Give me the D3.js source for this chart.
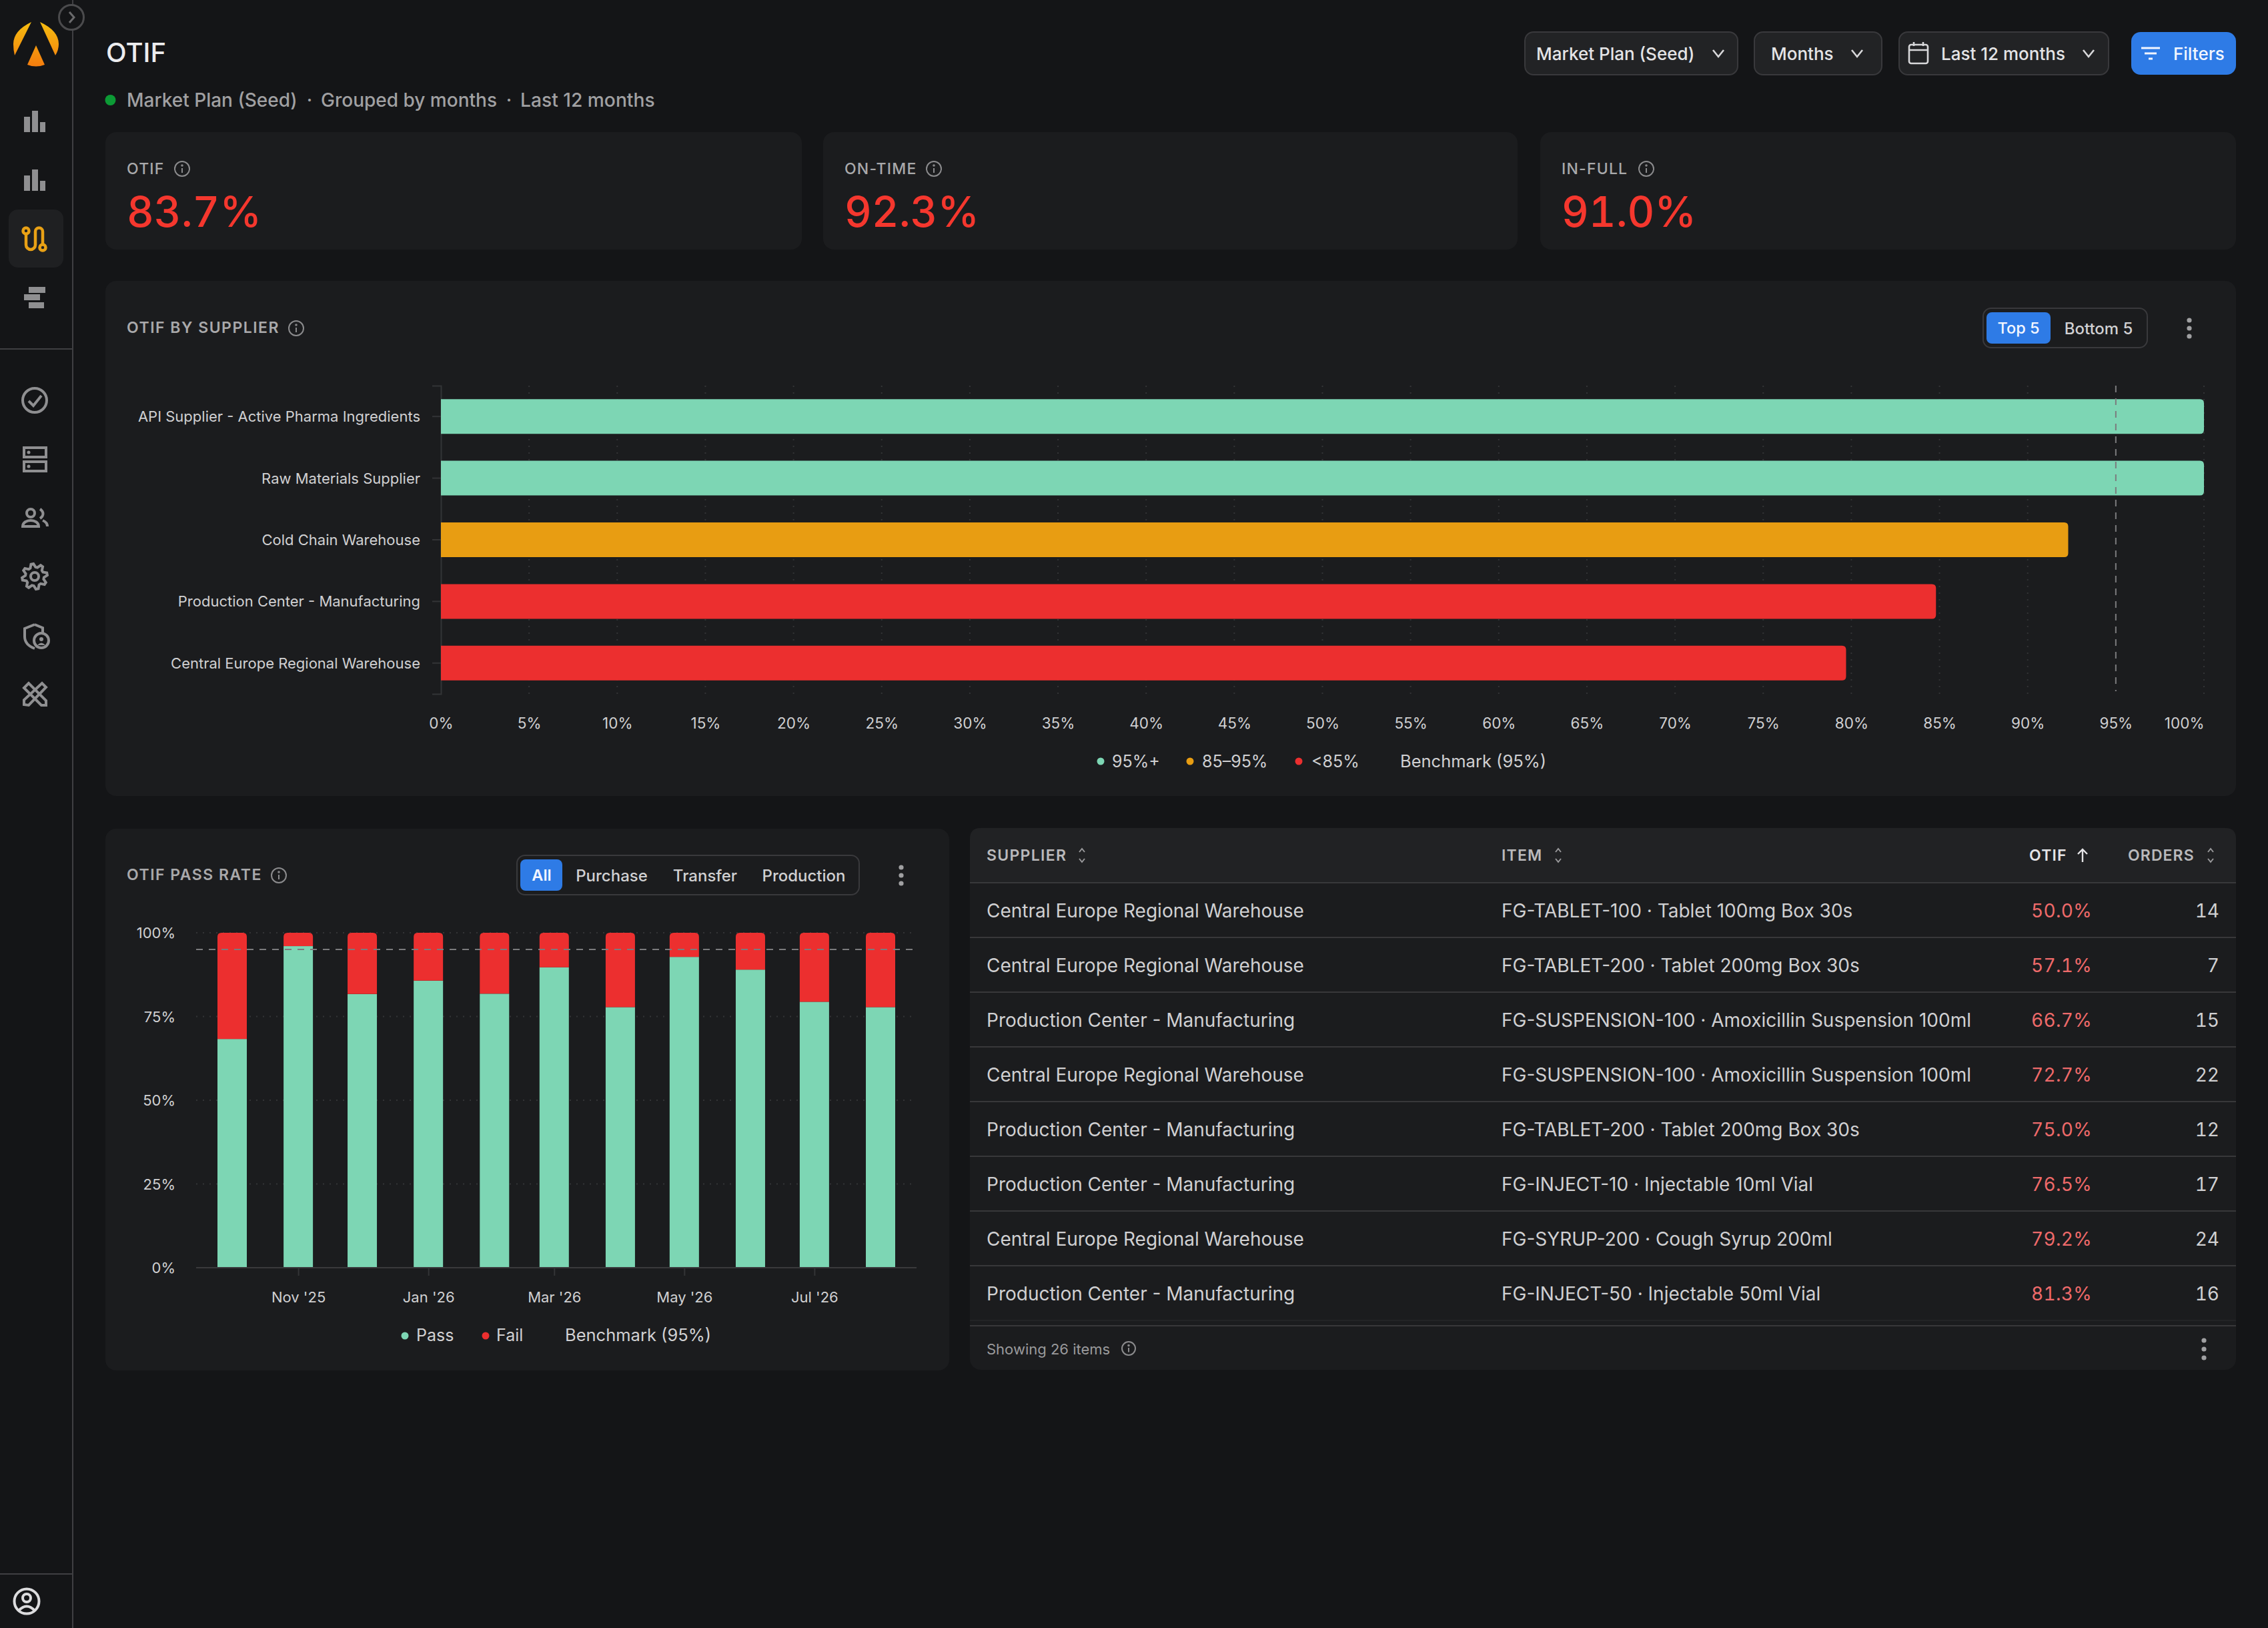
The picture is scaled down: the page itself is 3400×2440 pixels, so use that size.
<!DOCTYPE html>
<html>
<head>
<meta charset="utf-8">
<title>OTIF</title>
<script src="https://cdn.jsdelivr.net/npm/d3@7"></script>
<style>
    html, body { margin: 0; padding: 0; background: #141517; }
    svg { display: block; }
    text { font-family: Inter, "Noto Sans", sans-serif; }
    .tabular { font-variant-numeric: tabular-nums; }
</style>
</head>
<body>
<div id="chart"></div>
<script>
// Supplier bars
const suppliers = [
    'API Supplier - Active Pharma Ingredients',
    'Raw Materials Supplier',
    'Cold Chain Warehouse',
    'Production Center - Manufacturing',
    'Central Europe Regional Warehouse'
];
const supplierOtif = [100, 100, 92.3, 84.8, 79.7];
const supplierTicks = [0, 5, 10, 15, 20, 25, 30, 35, 40, 45, 50, 55, 60, 65, 70, 75, 80, 85, 90, 95, 100];
const benchmark = 95;

// Pass rate by month
const months = ['2025-10-01', '2025-11-01', '2025-12-01', '2026-01-01', '2026-02-01', '2026-03-01',
    '2026-04-01', '2026-05-01', '2026-06-01', '2026-07-01', '2026-08-01'];
const passRate = [68.3, 96.0, 81.7, 85.7, 81.8, 89.7, 77.8, 92.8, 89.0, 79.4, 77.8];
const failRate = [31.7, 4.0, 18.3, 14.3, 18.2, 10.3, 22.2, 7.2, 11.0, 20.6, 22.2];
const monthTicks = ['2025-11-01', '2026-01-01', '2026-03-01', '2026-05-01', '2026-07-01'];
const rateTicks = [0, 25, 50, 75, 100];

// Table rows
const tableSupplier = [
    'Central Europe Regional Warehouse',
    'Central Europe Regional Warehouse',
    'Production Center - Manufacturing',
    'Central Europe Regional Warehouse',
    'Production Center - Manufacturing',
    'Production Center - Manufacturing',
    'Central Europe Regional Warehouse',
    'Production Center - Manufacturing'
];
const tableItem = [
    'FG-TABLET-100 · Tablet 100mg Box 30s',
    'FG-TABLET-200 · Tablet 200mg Box 30s',
    'FG-SUSPENSION-100 · Amoxicillin Suspension 100ml',
    'FG-SUSPENSION-100 · Amoxicillin Suspension 100ml',
    'FG-TABLET-200 · Tablet 200mg Box 30s',
    'FG-INJECT-10 · Injectable 10ml Vial',
    'FG-SYRUP-200 · Cough Syrup 200ml',
    'FG-INJECT-50 · Injectable 50ml Vial'
];
const tableOtif = [50.0, 57.1, 66.7, 72.7, 75.0, 76.5, 79.2, 81.3];
const tableOrders = [14, 7, 15, 22, 12, 17, 24, 16];

// KPI cards
const kpiLabels = ['OTIF', 'ON-TIME', 'IN-FULL'];
const kpiValues = [83.7, 92.3, 91.0];

// Colors
const GREEN = '#7dd6b4';
const AMBER = '#e89d12';
const RED = '#ec2f2f';
const BLUE = '#2e7be6';
const PAGE = '#141517';
const CARD = '#1b1c1e';
const BORDER = '#39393c';
const MUTED = '#a9a9ab';
const TEXT = '#d0d0d2';
const ICON = '#8f8f91';

const svg = d3.select('#chart')
    .append('svg')
    .attr('width', 3400)
    .attr('height', 2440);

svg.append('rect').attr('width', 3400).attr('height', 2440).attr('fill', PAGE);

function label(parent, x, y, str, size, fill, weight, anchor, spacing) {
    return parent.append('text')
        .attr('x', x)
        .attr('y', y)
        .attr('dy', '0.36em')
        .attr('font-size', size)
        .attr('font-weight', weight || 400)
        .attr('fill', fill)
        .attr('text-anchor', anchor || 'start')
        .attr('letter-spacing', spacing || 0)
        .text(str);
}

function card(x0, y0, x1, y1, fill) {
    svg.append('rect')
        .attr('x', x0).attr('y', y0)
        .attr('width', x1 - x0).attr('height', y1 - y0)
        .attr('rx', 16)
        .attr('fill', fill || CARD);
}

function infoIcon(cx, cy, r) {
    const g = svg.append('g').attr('fill', 'none').attr('stroke', '#8b8b8d').attr('stroke-width', 2);
    g.append('circle').attr('cx', cx).attr('cy', cy).attr('r', r);
    g.append('line').attr('x1', cx).attr('x2', cx).attr('y1', cy - 1).attr('y2', cy + r * 0.55);
    g.append('circle').attr('cx', cx).attr('cy', cy - r * 0.45).attr('r', 0.8);
}

function chevron(cx, cy) {
    svg.append('path')
        .attr('d', `M${cx - 8},${cy - 5} L${cx},${cy + 5} L${cx + 8},${cy - 5}`)
        .attr('fill', 'none')
        .attr('stroke', '#d8d8da')
        .attr('stroke-width', 2.6);
}

function kebab(cx, cy, gap) {
    svg.append('g').selectAll('circle')
        .data([-gap, 0, gap])
        .enter()
        .append('circle')
        .attr('cx', cx)
        .attr('cy', d => cy + d)
        .attr('r', 3.6)
        .attr('fill', '#a0a0a2');
}

function sortIcon(cx, cy) {
    svg.append('path')
        .attr('d', `M${cx - 4},${cy - 5} L${cx},${cy - 10} L${cx + 4},${cy - 5} M${cx - 4},${cy + 5} L${cx},${cy + 10} L${cx + 4},${cy + 5}`)
        .attr('fill', 'none')
        .attr('stroke', '#9a9a9c')
        .attr('stroke-width', 2);
}

function toggleBox(x0, x1, y0, y1, ax0, ax1) {
    svg.append('rect')
        .attr('x', x0).attr('y', y0)
        .attr('width', x1 - x0).attr('height', y1 - y0)
        .attr('rx', 12)
        .attr('fill', 'none')
        .attr('stroke', BORDER)
        .attr('stroke-width', 2);
    svg.append('rect')
        .attr('x', ax0).attr('y', y0 + 6)
        .attr('width', ax1 - ax0).attr('height', y1 - y0 - 12)
        .attr('rx', 8)
        .attr('fill', BLUE);
}

// Rounded on the right side only, for horizontal bars
function barRight(x0, x1, y0, y1, r) {
    return `M${x0},${y0} H${x1 - r} Q${x1},${y0} ${x1},${y0 + r} V${y1 - r} Q${x1},${y1} ${x1 - r},${y1} H${x0} Z`;
}

// Rounded on top only, for the fail segments
function barTop(x0, x1, y0, y1, r) {
    return `M${x0},${y1} V${y0 + r} Q${x0},${y0} ${x0 + r},${y0} H${x1 - r} Q${x1},${y0} ${x1},${y0 + r} V${y1} Z`;
}

drawSidebar();
drawHeader();
drawKpis();
drawSupplierChart();
drawPassChart();
drawTable();

function drawSidebar() {
    svg.append('line').attr('x1', 109).attr('x2', 109).attr('y1', 0).attr('y2', 2440)
        .attr('stroke', '#3f3f42').attr('stroke-width', 2);
    svg.append('line').attr('x1', 0).attr('x2', 109).attr('y1', 523).attr('y2', 523)
        .attr('stroke', '#3f3f42').attr('stroke-width', 2);
    svg.append('line').attr('x1', 0).attr('x2', 109).attr('y1', 2359).attr('y2', 2359)
        .attr('stroke', '#3f3f42').attr('stroke-width', 2);

    // Expand button
    svg.append('circle').attr('cx', 107).attr('cy', 26).attr('r', 18.5)
        .attr('fill', PAGE).attr('stroke', '#4b4b4d').attr('stroke-width', 3);
    svg.append('path').attr('d', 'M104,18 L111,26 L104,34')
        .attr('fill', 'none').attr('stroke', '#6a6a6c').attr('stroke-width', 3);

    // Logo
    const grad = svg.append('defs').append('linearGradient')
        .attr('id', 'logoGrad').attr('x1', 0).attr('x2', 0).attr('y1', 0).attr('y2', 1);
    grad.append('stop').attr('offset', '0%').attr('stop-color', '#f5bd10');
    grad.append('stop').attr('offset', '100%').attr('stop-color', '#f57d0e');
    svg.append('path')
        .attr('d', 'M47,33 Q20,46 20,66 Q20,75 22,83 Z M60,33 Q88,46 88,66 Q88,75 83,83 Z M54,68 L41,97 Q54,102 67,97 Z')
        .attr('fill', 'url(#logoGrad)');

    // Bar chart icons
    [166, 254].forEach(top => {
        const g = svg.append('g').attr('fill', ICON);
        g.append('rect').attr('x', 36).attr('y', top + 9).attr('width', 9).attr('height', 23);
        g.append('rect').attr('x', 48).attr('y', top).attr('width', 9).attr('height', 32);
        g.append('rect').attr('x', 60).attr('y', top + 17).attr('width', 8).attr('height', 15);
    });

    // Active item
    svg.append('rect').attr('x', 13).attr('y', 314).attr('width', 82).attr('height', 87)
        .attr('rx', 14).attr('fill', '#1f2022');
    const route = svg.append('g').attr('fill', 'none').attr('stroke', '#e9a115').attr('stroke-width', 4.5);
    route.append('path').attr('d', 'M39,351 V367 A7,7 0 0 0 53,367 V347 A5.5,5.5 0 0 1 64,347 V366');
    route.append('circle').attr('cx', 39).attr('cy', 346).attr('r', 4.5);
    route.append('circle').attr('cx', 64).attr('cy', 371).attr('r', 4.5);

    // Stacked rows icon
    const stack = svg.append('g').attr('fill', ICON);
    stack.append('rect').attr('x', 43).attr('y', 430).attr('width', 25).attr('height', 9);
    stack.append('rect').attr('x', 36).attr('y', 441).attr('width', 24).attr('height', 9);
    stack.append('rect').attr('x', 43).attr('y', 453).attr('width', 23).attr('height', 9);

    const line = svg.append('g').attr('fill', 'none').attr('stroke', ICON).attr('stroke-width', 4);

    // Check circle
    line.append('circle').attr('cx', 52).attr('cy', 600).attr('r', 18);
    line.append('path').attr('d', 'M43,601 L50,608 L62,593');

    // Server
    line.append('rect').attr('x', 36).attr('y', 671).attr('width', 33).attr('height', 14);
    line.append('rect').attr('x', 36).attr('y', 692).attr('width', 33).attr('height', 14);
    svg.append('circle').attr('cx', 43).attr('cy', 678).attr('r', 2.5).attr('fill', ICON);
    svg.append('circle').attr('cx', 43).attr('cy', 699).attr('r', 2.5).attr('fill', ICON);

    // Users
    line.append('circle').attr('cx', 46).attr('cy', 769).attr('r', 6);
    line.append('path').attr('d', 'M34,789 C34,777 58,777 58,789 Z');
    line.append('path').attr('d', 'M60,763 C66,767 66,773 60,777 M64,780 C69,782 71,785 71,789');

    // Gear
    let gear = '';
    d3.range(16).forEach(i => {
        const a = (i / 16) * 2 * Math.PI - Math.PI / 16;
        const r = i % 2 === 0 ? 19 : 14;
        const step = 2 * Math.PI / 32;
        gear += (i === 0 ? 'M' : 'L') + (52 + r * Math.cos(a - step / 2)) + ',' + (864 + r * Math.sin(a - step / 2));
        gear += 'L' + (52 + r * Math.cos(a + step / 2)) + ',' + (864 + r * Math.sin(a + step / 2));
    });
    line.append('path').attr('d', gear + 'Z');
    line.append('circle').attr('cx', 52).attr('cy', 864).attr('r', 6);

    // Shield with badge
    line.append('path').attr('d', 'M52,936 L37,942 V954 C37,964 44,969 52,972');
    line.append('path').attr('d', 'M52,936 L64,941 V948');
    line.append('circle').attr('cx', 62).attr('cy', 960).attr('r', 11);
    svg.append('circle').attr('cx', 62).attr('cy', 958).attr('r', 3).attr('fill', ICON);
    svg.append('path').attr('d', 'M56,967 Q62,960 68,967 Z').attr('fill', ICON);

    // Crossed tools
    line.append('path').attr('d', 'M36,1056 V1049 L63,1024 L69,1030 L43,1057 Z');
    line.append('path').attr('d', 'M43,1024 L36,1031 L62,1057 L69,1057 V1050 Z');

    // Account
    const account = svg.append('g').attr('fill', 'none').attr('stroke', '#dcdcde').attr('stroke-width', 4);
    account.append('circle').attr('cx', 40).attr('cy', 2400).attr('r', 18.5);
    account.append('circle').attr('cx', 40).attr('cy', 2395).attr('r', 6);
    account.append('path').attr('d', 'M28,2414 Q40,2401 52,2414');
}

function drawHeader() {
    label(svg, 159, 79, 'OTIF', 40, '#ececee', 500);

    svg.append('circle').attr('cx', 165.5).attr('cy', 150).attr('r', 8).attr('fill', '#0c9a35');
    label(svg, 190, 150, 'Market Plan (Seed)', 28, '#a0a0a2', 500);
    label(svg, 464, 150, '·', 28, '#a0a0a2', 500, 'middle');
    label(svg, 481, 150, 'Grouped by months', 28, '#a0a0a2', 500);
    label(svg, 763, 150, '·', 28, '#a0a0a2', 500, 'middle');
    label(svg, 780, 150, 'Last 12 months', 28.2, '#a0a0a2', 500);

    // Selector chips
    const chips = [[2286, 2605], [2630, 2821], [2847, 3161]];
    chips.forEach(c => {
        svg.append('rect')
            .attr('x', c[0]).attr('y', 48)
            .attr('width', c[1] - c[0]).attr('height', 64)
            .attr('rx', 13)
            .attr('fill', '#222325')
            .attr('stroke', BORDER)
            .attr('stroke-width', 2);
    });
    label(svg, 2303, 81, 'Market Plan (Seed)', 26, '#e4e4e6', 500);
    chevron(2576, 80);
    label(svg, 2655, 81, 'Months', 26, '#e4e4e6', 500);
    chevron(2784, 80);
    label(svg, 2910, 81, 'Last 12 months', 26, '#e4e4e6', 500);
    chevron(3131, 80);

    // Calendar
    const cal = svg.append('g').attr('fill', 'none').attr('stroke', '#d8d8da').attr('stroke-width', 2.6);
    cal.append('rect').attr('x', 2862).attr('y', 67).attr('width', 28).attr('height', 28).attr('rx', 3);
    cal.append('path').attr('d', 'M2862,75 H2890 M2869,63 V69 M2883,63 V69');

    // Filters button
    svg.append('rect').attr('x', 3195).attr('y', 48).attr('width', 157).attr('height', 64)
        .attr('rx', 14).attr('fill', BLUE);
    svg.append('path').attr('d', 'M3210,72 H3238 M3215,80 H3233 M3221,88 H3227')
        .attr('fill', 'none').attr('stroke', '#f2f6ff').attr('stroke-width', 3);
    label(svg, 3258, 81, 'Filters', 26, '#f2f6ff', 500);
}

function drawKpis() {
    const kpiX = [[158, 1202], [1234, 2275], [2309, 3352]];
    const infoX = [273, 1400, 2468];
    kpiLabels.forEach((name, i) => {
        card(kpiX[i][0], 198, kpiX[i][1], 374);
        label(svg, kpiX[i][0] + 32, 253, name, 23, MUTED, 500, 'start', 1.2);
        infoIcon(infoX[i], 253, 11);
        label(svg, kpiX[i][0] + 32, 317, kpiValues[i].toFixed(1) + '%', 63, '#f5372e', 500)
            .attr('class', 'tabular');
    });
}

function drawSupplierChart() {
    card(158, 421, 3352, 1193);
    label(svg, 190, 491, 'OTIF BY SUPPLIER', 23, MUTED, 600, 'start', 1.5);
    infoIcon(444, 492, 11);

    toggleBox(2973, 3219, 462, 521, 2978, 3074);
    label(svg, 3026, 492, 'Top 5', 23.5, '#f2f6ff', 500, 'middle');
    label(svg, 3146, 492, 'Bottom 5', 24, TEXT, 500, 'middle');
    kebab(3282, 492, 12);

    const x = d3.scaleLinear().domain([0, 100]).range([661, 3304]);
    const y = d3.scaleBand().domain(suppliers).range([578, 1040]).paddingInner(0.437).paddingOuter(0.2185);

    // Dotted grid
    svg.append('g').selectAll('line')
        .data(supplierTicks.filter(d => d !== 0 && d !== benchmark))
        .enter()
        .append('line')
        .attr('x1', d => x(d)).attr('x2', d => x(d))
        .attr('y1', 578).attr('y2', 1040)
        .attr('stroke', '#333436')
        .attr('stroke-width', 2)
        .attr('stroke-dasharray', '2 8');

    // Category axis
    const yAxis = svg.append('g')
        .attr('transform', 'translate(661,0)')
        .call(d3.axisLeft(y).tickSize(13).tickPadding(18));
    yAxis.select('.domain').attr('stroke', '#333436').attr('stroke-width', 2);
    yAxis.selectAll('.tick line').attr('stroke', '#333436').attr('stroke-width', 2);
    yAxis.selectAll('text').attr('font-size', 22).attr('fill', TEXT).attr('font-family', 'Inter').attr('dy', '0.36em');

    // Bars
    svg.append('g').selectAll('path')
        .data(suppliers)
        .enter()
        .append('path')
        .attr('d', (d, i) => barRight(x(0), x(supplierOtif[i]), y(d), y(d) + y.bandwidth(), 6))
        .attr('fill', (d, i) => supplierOtif[i] >= benchmark ? GREEN : supplierOtif[i] >= 85 ? AMBER : RED);

    // Benchmark
    svg.append('line')
        .attr('x1', x(benchmark)).attr('x2', x(benchmark))
        .attr('y1', 578).attr('y2', 1036)
        .attr('stroke', '#7b7b7d')
        .attr('stroke-width', 2)
        .attr('stroke-dasharray', '10 9');

    // Value axis
    const xAxis = svg.append('g')
        .attr('transform', 'translate(0,1040)')
        .call(d3.axisBottom(x).tickValues(supplierTicks).tickSize(0).tickPadding(36).tickFormat(d => d + '%'));
    xAxis.select('.domain').remove();
    xAxis.selectAll('text').attr('font-size', 22.5).attr('fill', TEXT).attr('font-family', 'Inter')
        .attr('text-anchor', d => d === 100 ? 'end' : 'middle');

    // Legend
    const legendDots = [[1650, GREEN], [1784, AMBER], [1947, RED]];
    legendDots.forEach(d => {
        svg.append('circle').attr('cx', d[0]).attr('cy', 1141).attr('r', 5.5).attr('fill', d[1]);
    });
    label(svg, 1667, 1141, '95%+', 25, TEXT);
    label(svg, 1802, 1141, '85–95%', 25, TEXT);
    label(svg, 1966, 1141, '<85%', 25, TEXT);
    label(svg, 2099, 1141, 'Benchmark (95%)', 25.5, TEXT);
}

function drawPassChart() {
    card(158, 1242, 1423, 2054);
    label(svg, 190, 1311, 'OTIF PASS RATE', 23, MUTED, 600, 'start', 1.5);
    infoIcon(418, 1312, 11);

    toggleBox(775, 1288, 1282, 1341, 780, 843);
    label(svg, 812, 1312, 'All', 23.5, '#f2f6ff', 600, 'middle');
    label(svg, 917, 1312, 'Purchase', 24, TEXT, 500, 'middle');
    label(svg, 1057, 1312, 'Transfer', 24, TEXT, 500, 'middle');
    label(svg, 1205, 1312, 'Production', 24, TEXT, 500, 'middle');
    kebab(1351, 1312, 12);

    const dates = months.map(d => new Date(d));
    const x = d3.scaleUtc().domain([dates[0], dates[dates.length - 1]]).range([348, 1320]);
    const y = d3.scaleLinear().domain([0, 100]).range([1900, 1398]);
    const barW = 44;

    // Dotted grid
    svg.append('g').selectAll('line')
        .data(rateTicks.filter(d => d !== 0))
        .enter()
        .append('line')
        .attr('x1', 294).attr('x2', 1374)
        .attr('y1', d => y(d)).attr('y2', d => y(d))
        .attr('stroke', '#333436')
        .attr('stroke-width', 2)
        .attr('stroke-dasharray', '2 8');

    // Pass segment
    svg.append('g').selectAll('rect')
        .data(dates)
        .enter()
        .append('rect')
        .attr('x', d => x(d) - barW / 2)
        .attr('y', (d, i) => y(passRate[i]))
        .attr('width', barW)
        .attr('height', (d, i) => y(0) - y(passRate[i]))
        .attr('fill', GREEN);

    // Fail segment stacked on top
    svg.append('g').selectAll('path')
        .data(dates)
        .enter()
        .append('path')
        .attr('d', (d, i) => barTop(x(d) - barW / 2, x(d) + barW / 2,
            y(passRate[i] + failRate[i]), y(passRate[i]), 6))
        .attr('fill', RED);

    // Benchmark
    svg.append('line')
        .attr('x1', 294).attr('x2', 1374)
        .attr('y1', y(benchmark)).attr('y2', y(benchmark))
        .attr('stroke', '#7b7b7d')
        .attr('stroke-width', 2)
        .attr('stroke-dasharray', '10 9');

    // Axes
    const xAxis = svg.append('g')
        .attr('transform', 'translate(0,1900)')
        .call(d3.axisBottom(x)
            .tickValues(monthTicks.map(d => new Date(d)))
            .tickSize(12)
            .tickPadding(24)
            .tickFormat(d3.utcFormat("%b '%y")));
    xAxis.select('.domain').attr('d', 'M294,0 H1374').attr('stroke', '#3a3a3c').attr('stroke-width', 2);
    xAxis.selectAll('.tick line').attr('stroke', '#333436').attr('stroke-width', 2);
    xAxis.selectAll('text').attr('font-size', 22).attr('fill', TEXT).attr('font-family', 'Inter');

    const yAxis = svg.append('g')
        .attr('transform', 'translate(263,0)')
        .call(d3.axisLeft(y).tickValues(rateTicks).tickSize(0).tickPadding(0).tickFormat(d => d + '%'));
    yAxis.select('.domain').remove();
    yAxis.selectAll('text').attr('font-size', 22).attr('fill', TEXT).attr('font-family', 'Inter').attr('dy', '0.36em');

    // Legend
    svg.append('circle').attr('cx', 607).attr('cy', 2002).attr('r', 5.5).attr('fill', GREEN);
    svg.append('circle').attr('cx', 728).attr('cy', 2002).attr('r', 5.5).attr('fill', RED);
    label(svg, 624, 2001, 'Pass', 25, TEXT);
    label(svg, 744, 2001, 'Fail', 25, TEXT);
    label(svg, 847, 2001, 'Benchmark (95%)', 25.5, TEXT);
}

function drawTable() {
    card(1454, 1241, 3352, 2053);

    // Header band
    svg.append('path')
        .attr('d', 'M1454,1323 V1257 Q1454,1241 1470,1241 H3336 Q3352,1241 3352,1257 V1323 Z')
        .attr('fill', '#212224');
    label(svg, 1479, 1282, 'SUPPLIER', 23, '#b9b9bb', 600, 'start', 1.3);
    sortIcon(1622, 1282);
    label(svg, 2251, 1282, 'ITEM', 23, '#b9b9bb', 600, 'start', 1.2);
    sortIcon(2336, 1282);
    label(svg, 3042, 1282, 'OTIF', 23, '#e4e4e6', 600, 'start', 1.2);
    svg.append('path')
        .attr('d', 'M3122,1292 V1273 M3115,1280 L3122,1273 L3129,1280')
        .attr('fill', 'none').attr('stroke', '#e4e4e6').attr('stroke-width', 2.4);
    label(svg, 3190, 1282, 'ORDERS', 23, '#b9b9bb', 600, 'start', 1.1);
    sortIcon(3314, 1282);

    const rows = d3.scaleBand().domain(d3.range(tableSupplier.length)).range([1323, 1979]);

    svg.append('g').selectAll('line')
        .data(rows.domain())
        .enter()
        .append('line')
        .attr('x1', 1454).attr('x2', 3352)
        .attr('y1', d => rows(d)).attr('y2', d => rows(d))
        .attr('stroke', '#38383a')
        .attr('stroke-width', 2);

    rows.domain().forEach(i => {
        const cy = rows(i) + rows.bandwidth() / 2 + 1;
        label(svg, 1479, cy, tableSupplier[i], 28, TEXT);
        label(svg, 2251, cy, tableItem[i], 28, TEXT);
        label(svg, 3136, cy, tableOtif[i].toFixed(1) + '%', 28, '#ee6a6a', 400, 'end', 0.3).attr('class', 'tabular');
        label(svg, 3327, cy, tableOrders[i], 28, TEXT, 400, 'end').attr('class', 'tabular');
    });

    // Footer
    svg.append('line').attr('x1', 1454).attr('x2', 3352).attr('y1', 1979).attr('y2', 1979)
        .attr('stroke', '#232426').attr('stroke-width', 2);
    svg.append('line').attr('x1', 1454).attr('x2', 3352).attr('y1', 1987).attr('y2', 1987)
        .attr('stroke', '#38383a').attr('stroke-width', 2);
    label(svg, 1479, 2022, 'Showing 26 items', 22, '#9a9a9c');
    infoIcon(1692, 2021, 10);
    kebab(3304, 2022, 13);
}
</script>
</body>
</html>
